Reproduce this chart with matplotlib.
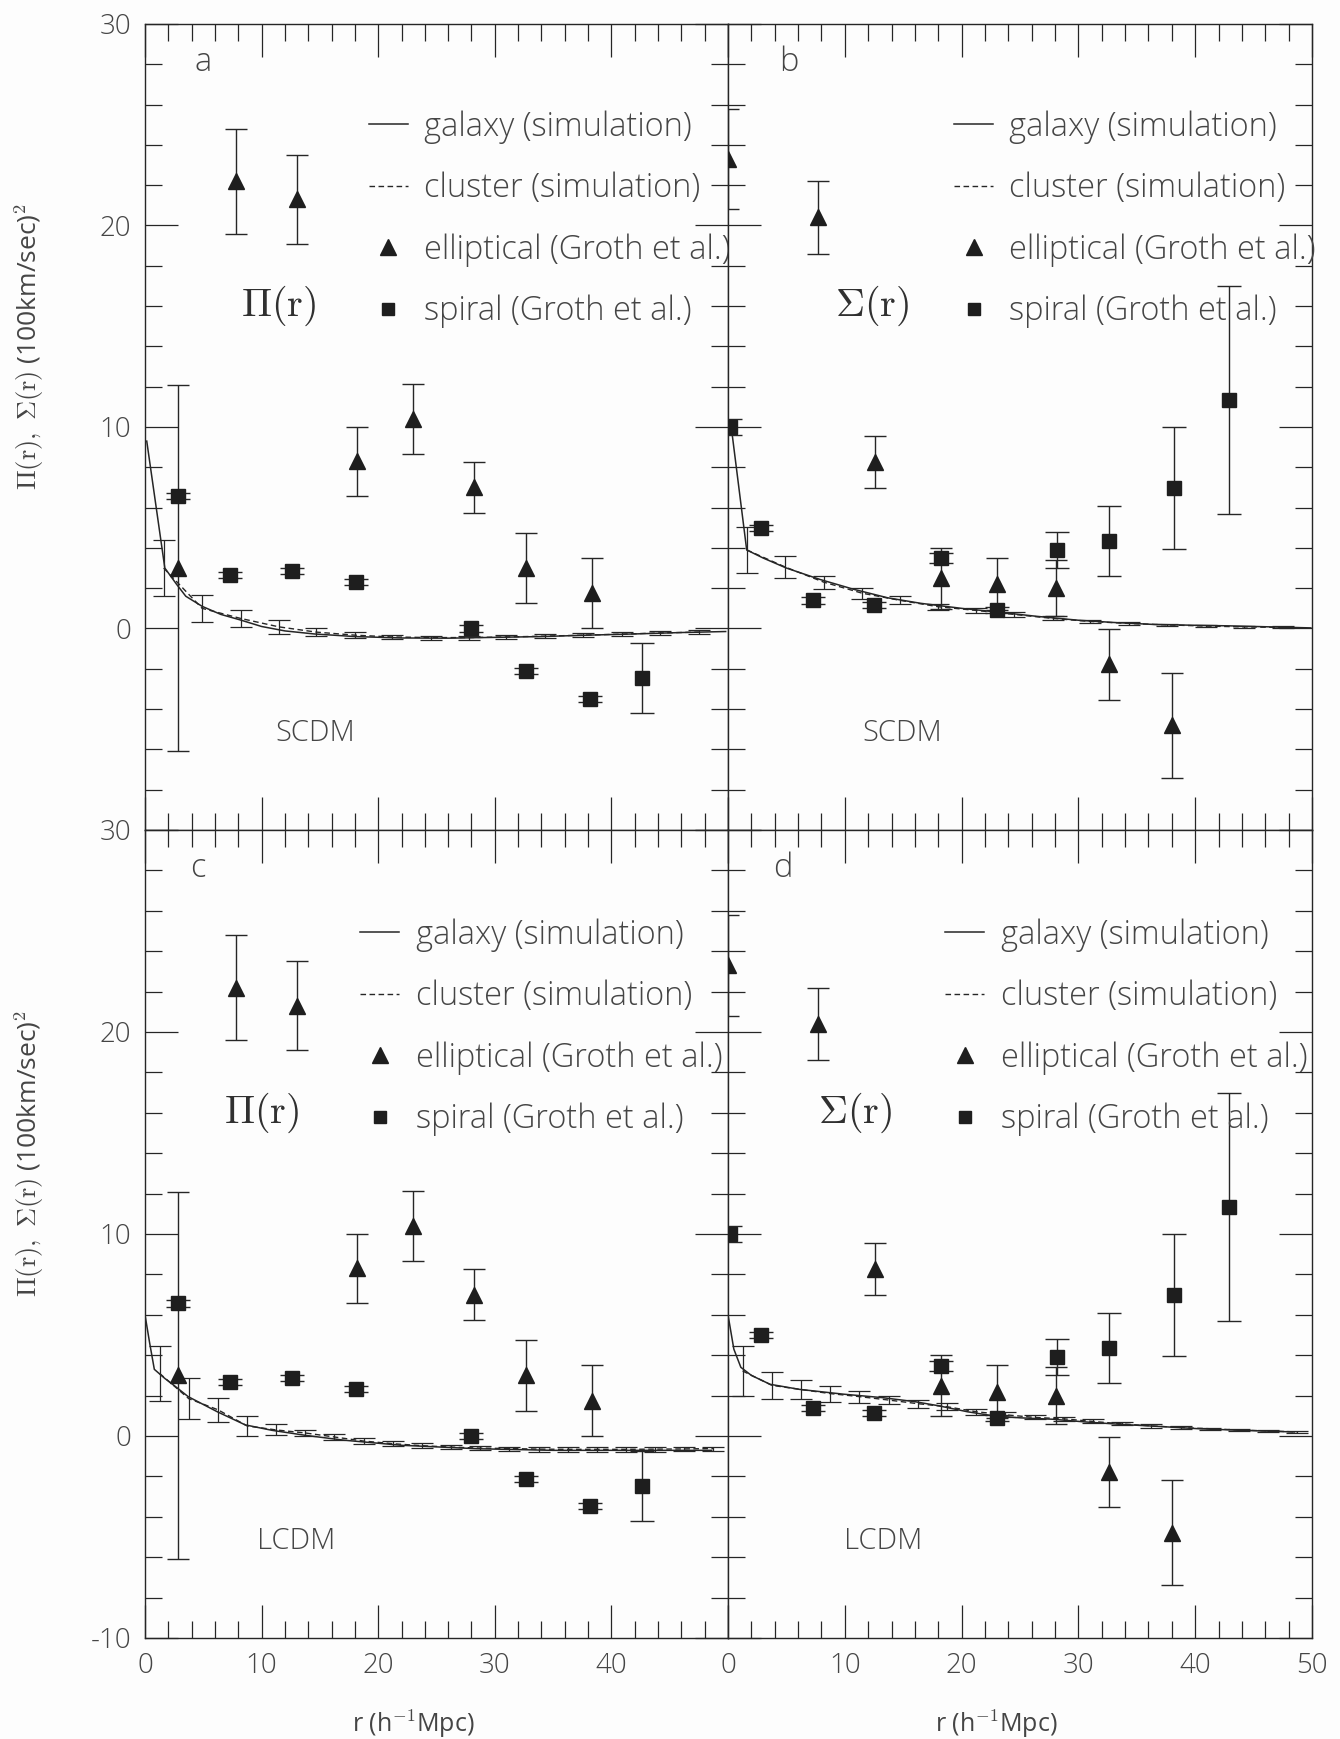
import matplotlib
matplotlib.use("Agg")
import matplotlib.pyplot as plt
from matplotlib.ticker import MultipleLocator, FixedLocator
from matplotlib.lines import Line2D

# ---------------- data ----------------
# Groth et al. data, Pi(r) (panels a and c)
pi_ell_x = [2.8, 7.8, 13.0, 18.2, 23.0, 28.2, 32.7, 38.3]
pi_ell_y = [3.0, 22.2, 21.3, 8.3, 10.4, 7.0, 3.0, 1.75]
pi_ell_e = [9.1, 2.6, 2.2, 1.72, 1.72, 1.27, 1.74, 1.75]
pi_spi_x = [2.8, 7.3, 12.6, 18.1, 28.0, 32.7, 38.2, 42.6]
pi_spi_y = [6.56, 2.66, 2.87, 2.33, 0.0, -2.13, -3.48, -2.46]
pi_spi_e = [0.15, 0.15, 0.15, 0.15, 0.15, 0.15, 0.15, 1.74]

# Groth et al. data, Sigma(r) (panels b and d)
si_ell_x = [0.0, 7.7, 12.6, 18.2, 23.0, 28.1, 32.6, 38.0]
si_ell_y = [23.3, 20.4, 8.26, 2.49, 2.2, 2.0, -1.78, -4.8]
si_ell_e = [2.5, 1.8, 1.29, 1.5, 1.3, 1.4, 1.75, 2.6]
si_spi_x = [0.15, 2.8, 7.3, 12.5, 18.2, 23.0, 28.2, 32.6, 38.2, 42.9]
si_spi_y = [10.0, 5.0, 1.39, 1.15, 3.48, 0.9, 3.9, 4.36, 6.97, 11.35]
si_spi_e = [0.4, 0.15, 0.15, 0.15, 0.25, 0.15, 0.88, 1.74, 3.03, 5.65]

# SCDM simulation, Pi(r)
a_gal_x = [0.15, 1.7, 2.7, 3.5, 4.9, 6.5, 8.2, 10, 12, 14.5, 18, 22, 26, 30, 34, 38, 42, 46, 49.8]
a_gal_y = [9.3, 3.0, 2.2, 1.6, 1.1, 0.7, 0.42, 0.1, -0.12, -0.27, -0.4, -0.47, -0.48, -0.44, -0.4, -0.33, -0.27, -0.2, -0.15]
a_clu_x = [1.6, 4.9, 8.2, 11.5, 14.7, 18.0, 21.2, 24.5, 27.8, 31.0, 34.3, 37.6, 40.9, 44.2, 47.5]
a_clu_y = [3.0, 1.0, 0.5, 0.08, -0.18, -0.33, -0.42, -0.45, -0.45, -0.42, -0.38, -0.33, -0.28, -0.22, -0.18]
a_clu_e = [1.4, 0.67, 0.43, 0.33, 0.18, 0.15, 0.12, 0.1, 0.1, 0.1, 0.1, 0.1, 0.1, 0.1, 0.1]

# SCDM simulation, Sigma(r)
b_gal_x = [0.3, 1.6, 3.0, 5.0, 7.9, 10.8, 13.7, 16.5, 20, 23, 26.5, 30, 33, 36.5, 40, 43, 46.5, 49.9]
b_gal_y = [9.9, 3.9, 3.5, 3.0, 2.43, 1.94, 1.52, 1.25, 1.0, 0.82, 0.6, 0.41, 0.3, 0.2, 0.16, 0.13, 0.08, 0.03]
b_clu_x = [1.6, 4.9, 8.2, 11.5, 14.7, 18.0, 21.2, 24.5, 27.8, 31.0, 34.3, 37.6, 40.9, 44.2, 47.5]
b_clu_y = [3.9, 3.05, 2.3, 1.75, 1.4, 1.08, 0.9, 0.7, 0.5, 0.35, 0.25, 0.18, 0.12, 0.08, 0.05]
b_clu_e = [1.15, 0.54, 0.33, 0.28, 0.2, 0.15, 0.12, 0.12, 0.1, 0.08, 0.08, 0.06, 0.06, 0.05, 0.05]

# LCDM simulation, Pi(r)
c_gal_x = [0, 0.4, 0.8, 1.7, 2.5, 3.7, 6.2, 8.6, 10.9, 13.8, 17.1, 22, 28.5, 35, 41.5, 48.6]
c_gal_y = [6.0, 4.6, 3.3, 2.85, 2.5, 1.95, 1.2, 0.55, 0.28, 0.03, -0.21, -0.46, -0.63, -0.71, -0.71, -0.71]
c_clu_x = [1.25, 3.75, 6.25, 8.75, 11.25, 13.75, 16.25, 18.75, 21.25, 23.75, 26.25, 28.75, 31.25, 33.75, 36.25, 38.75, 41.25, 43.75, 46.25, 48.75]
c_clu_y = [3.1, 1.85, 1.3, 0.5, 0.3, 0.15, -0.05, -0.25, -0.38, -0.48, -0.55, -0.6, -0.62, -0.65, -0.66, -0.66, -0.66, -0.65, -0.64, -0.62]
c_clu_e = [1.35, 1.0, 0.6, 0.48, 0.27, 0.17, 0.15, 0.13, 0.12, 0.11, 0.1, 0.1, 0.1, 0.12, 0.12, 0.12, 0.12, 0.12, 0.12, 0.1]

# LCDM simulation, Sigma(r)
d_gal_x = [0, 0.5, 1.1, 2.0, 3.6, 6.1, 9.9, 13.2, 16, 18, 20.5, 22.7, 25, 27.8, 30.5, 33.5, 37, 40.3, 44, 48.5]
d_gal_y = [6.0, 4.3, 3.4, 3.0, 2.56, 2.31, 2.07, 1.9, 1.7, 1.5, 1.2, 1.0, 0.9, 0.83, 0.7, 0.58, 0.47, 0.36, 0.28, 0.2]
d_clu_x = c_clu_x
d_clu_y = [3.22, 2.51, 2.3, 2.1, 1.95, 1.78, 1.6, 1.45, 1.2, 1.05, 0.92, 0.85, 0.72, 0.6, 0.5, 0.42, 0.36, 0.3, 0.25, 0.2]
d_clu_e = [1.24, 0.66, 0.46, 0.4, 0.3, 0.22, 0.2, 0.18, 0.15, 0.12, 0.1, 0.1, 0.1, 0.08, 0.08, 0.06, 0.06, 0.05, 0.05, 0.05]

legend_labels = ["galaxy (simulation)", "cluster (simulation)",
                 "elliptical (Groth et al.)", "spiral (Groth et al.)"]
panel_letters = ["a", "b", "c", "d"]
model_names = ["SCDM", "SCDM", "LCDM", "LCDM"]
stat_names = [r"$\Pi(\mathrm{r})$", r"$\Sigma(\mathrm{r})$", r"$\Pi(\mathrm{r})$", r"$\Sigma(\mathrm{r})$"]
ytick_vals = [-10, 0, 10, 20, 30]
ytick_labels_top = ["", "0", "10", "20", "30"]
ytick_labels_bot = ["-10", "0", "10", "20", "30"]
xtick_vals = [0, 10, 20, 30, 40, 50]
xtick_labels_c = ["0", "10", "20", "30", "40", ""]
xtick_labels_d = ["0", "10", "20", "30", "40", "50"]
ylabel_text = r"$\Pi(\mathrm{r}),\ \Sigma(\mathrm{r})$ (100km/sec)$^2$"
xlabel_text = "r (h$^{\\mathsf{-1}}$Mpc)"

# ---------------- style ----------------
plt.rcParams['font.family'] = ['Open Sans', 'DejaVu Sans']
plt.rcParams['font.weight'] = 'light'
plt.rcParams['mathtext.fontset'] = 'cm'
INK = '#262626'
TXT = '#454545'
FS = 23.5

W, H = 1340, 1739
fig = plt.figure(figsize=(W / 100, H / 100), dpi=100, facecolor='#fdfdfd')

L, M, R = 145, 728, 1312
T, MY, B = 24, 830, 1638


def rect(x0, x1, y0, y1):
    return [x0 / W, 1 - y1 / H, (x1 - x0) / W, (y1 - y0) / H]


axes = [fig.add_axes(rect(L, M, T, MY)), fig.add_axes(rect(M, R, T, MY)),
        fig.add_axes(rect(L, M, MY, B)), fig.add_axes(rect(M, R, MY, B))]

panels = [
    (pi_ell_x, pi_ell_y, pi_ell_e, pi_spi_x, pi_spi_y, pi_spi_e, a_gal_x, a_gal_y, a_clu_x, a_clu_y, a_clu_e),
    (si_ell_x, si_ell_y, si_ell_e, si_spi_x, si_spi_y, si_spi_e, b_gal_x, b_gal_y, b_clu_x, b_clu_y, b_clu_e),
    (pi_ell_x, pi_ell_y, pi_ell_e, pi_spi_x, pi_spi_y, pi_spi_e, c_gal_x, c_gal_y, c_clu_x, c_clu_y, c_clu_e),
    (si_ell_x, si_ell_y, si_ell_e, si_spi_x, si_spi_y, si_spi_e, d_gal_x, d_gal_y, d_clu_x, d_clu_y, d_clu_e),
]

letter_pos = [(5.0, 28.1), (5.2, 28.1), (4.5, 28.1), (4.7, 28.1)]
stat_pos = [(11.5, 16.0), (12.3, 16.0), (10.0, 16.0), (10.9, 16.0)]
model_pos = [(14.6, -5.2), (14.9, -5.2), (13.0, -5.2), (13.3, -5.2)]
legend_anchor = [(0.384, 0.893), (0.387, 0.893), (0.369, 0.891), (0.372, 0.891)]

DASH = (0, (4, 2.5))

for i, ax in enumerate(axes):
    ex, ey, ee, sx, sy, se, gx, gy, cx, cy, ce = panels[i]
    ax.set_facecolor('#fdfdfd')
    ax.set_xlim(0, 50)
    ax.set_ylim(-10, 30)
    # simulations
    ax.plot(gx, gy, color=INK, lw=1.1, zorder=3)
    ax.plot(cx, cy, color=INK, lw=1.0, ls=DASH, zorder=3)
    ax.errorbar(cx, cy, yerr=ce, fmt='none', ecolor=INK, elinewidth=0.9,
                capsize=8, capthick=0.9, zorder=3)
    # Groth et al.
    ax.errorbar(ex, ey, yerr=ee, fmt='^', ms=11, color='#1e1e1e', mec='#1e1e1e',
                ecolor=INK, elinewidth=1.0, capsize=8, capthick=1.0, zorder=4)
    ax.errorbar(sx, sy, yerr=se, fmt='s', ms=9.5, color='#1e1e1e', mec='#1e1e1e',
                ecolor=INK, elinewidth=1.0, capsize=8.5, capthick=1.0, zorder=4)

    # ticks
    ax.xaxis.set_major_locator(FixedLocator(xtick_vals))
    ax.xaxis.set_minor_locator(MultipleLocator(2))
    ax.yaxis.set_major_locator(FixedLocator(ytick_vals))
    ax.yaxis.set_minor_locator(MultipleLocator(2))
    ax.tick_params(which='both', direction='in', top=True, right=True,
                   color=INK, width=0.9, labelcolor=TXT, labelsize=20, pad=10)
    ax.tick_params(which='major', length=24)
    ax.tick_params(which='minor', length=12)
    for sp in ax.spines.values():
        sp.set_color(INK)
        sp.set_linewidth(1.0)

    if i in (0, 2):
        ax.set_yticklabels(ytick_labels_top if i == 0 else ytick_labels_bot)
        ax.set_ylabel(ylabel_text, fontsize=19, color=TXT)
        ax.yaxis.set_label_coords(-0.17, 0.6)
    else:
        ax.set_yticklabels([])
    if i == 2:
        ax.set_xticklabels(xtick_labels_c)
    elif i == 3:
        ax.set_xticklabels(xtick_labels_d)
    else:
        ax.set_xticklabels([])
    if i >= 2:
        ax.set_xlabel(xlabel_text, fontsize=18, color=TXT)
        ax.xaxis.set_label_coords(0.46, -0.087)

    # texts
    ax.text(*letter_pos[i], panel_letters[i], fontsize=FS, color=TXT, ha='center', va='center')
    ax.text(*stat_pos[i], stat_names[i], fontsize=29, color='#303030', ha='center', va='center')
    ax.text(*model_pos[i], model_names[i], fontsize=21, color=TXT, ha='center', va='center')

    handles = [Line2D([], [], color=INK, lw=1.1),
               Line2D([], [], color=INK, lw=1.0, ls=DASH),
               Line2D([], [], color='#1e1e1e', marker='^', ls='none', ms=11),
               Line2D([], [], color='#1e1e1e', marker='s', ls='none', ms=9)]
    leg = ax.legend(handles, legend_labels, loc='upper left',
                    bbox_to_anchor=legend_anchor[i], frameon=False,
                    fontsize=FS, borderpad=0, borderaxespad=0,
                    handlelength=1.2, handletextpad=0.5, labelspacing=0.86,
                    labelcolor=TXT)
    leg.set_zorder(5)

fig.savefig("out.png", dpi=100, facecolor=fig.get_facecolor())
